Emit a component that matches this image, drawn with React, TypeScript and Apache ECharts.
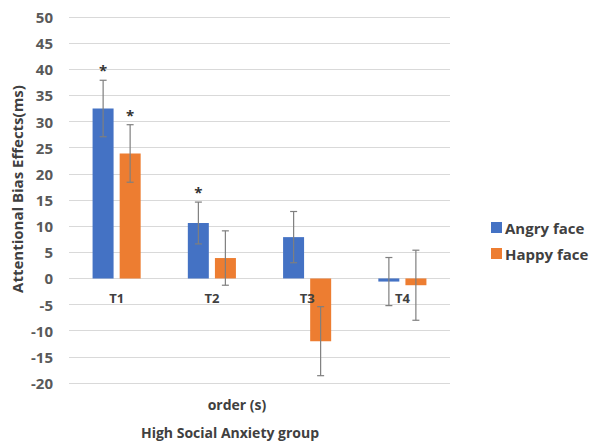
import React, { useEffect, useRef } from "react";
import * as echarts from "echarts";

const categories = ["T1", "T2", "T3", "T4"];
const angryValues = [32.5, 10.6, 7.9, -0.6];
const angryErrors = [5.4, 4.0, 4.9, 4.6];
const angrySignificant = [true, true, false, false];
const happyValues = [23.9, 3.9, -12.0, -1.3];
const happyErrors = [5.5, 5.2, 6.6, 6.7];
const happySignificant = [true, false, false, false];
const yTicks = { min: -20, max: 50, step: 5 };

const FONT = "'Open Sans', sans-serif";
const TEXT_COLOR = "#404040";

function errorSeries(name: string, values: number[], errs: number[], sig: boolean[], offset: number) {
  const data = values.map((v, i) => [i, v, errs[i], sig[i] ? 1 : 0]);
  return {
    type: "custom",
    name: name + " err",
    data,
    z: 10,
    silent: true,
    renderItem: (params: any, api: any) => {
      const i = api.value(0);
      const v = api.value(1);
      const e = api.value(2);
      const s = api.value(3);
      const top = api.coord([i, v + e]);
      const bot = api.coord([i, v - e]);
      const x = top[0] + offset;
      const cap = 3.5;
      const style = { stroke: "#7f7f7f", lineWidth: 1.2, fill: null };
      const children: any[] = [
        { type: "line", shape: { x1: x, y1: top[1], x2: x, y2: bot[1] }, style },
        { type: "line", shape: { x1: x - cap, y1: top[1], x2: x + cap, y2: top[1] }, style },
        { type: "line", shape: { x1: x - cap, y1: bot[1], x2: x + cap, y2: bot[1] }, style },
      ];
      if (s) {
        children.push({
          type: "text",
          x,
          y: top[1] - 10,
          style: {
            text: "*",
            fontSize: 15,
            fontWeight: "bold",
            fontFamily: FONT,
            fill: "#333333",
            align: "center",
            verticalAlign: "middle",
          },
        });
      }
      return { type: "group", children };
    },
  };
}

export default function App() {
  const ref = useRef<HTMLDivElement>(null);
  useEffect(() => {
    if (!ref.current) return;
    const chart = echarts.init(ref.current, null, { renderer: "svg" });
    chart.setOption({
      animation: false,
      backgroundColor: "#ffffff",
      grid: { left: 69, right: 141, top: 17, bottom: 60, containLabel: false },
      legend: {
        orient: "vertical",
        left: 486,
        top: 215,
        itemWidth: 11,
        itemHeight: 11,
        itemGap: 11,
        icon: "rect",
        data: ["Angry face", "Happy face"],
        textStyle: { fontSize: 15, fontWeight: "bold", fontFamily: FONT, color: TEXT_COLOR, padding: [0, 0, 0, -2] },
      },
      xAxis: {
        type: "category",
        data: categories,
        position: "bottom",
        offset: -104.6,
        z: 5,
        axisLine: { show: false, onZero: false },
        axisTick: { show: false },
        axisLabel: { margin: 13, fontSize: 13, fontWeight: "bold", fontFamily: FONT, color: TEXT_COLOR },
        splitLine: { show: false },
      },
      yAxis: {
        type: "value",
        min: yTicks.min,
        max: yTicks.max,
        interval: yTicks.step,
        axisLine: { show: false },
        axisTick: { show: false },
        axisLabel: { margin: 16, fontSize: 15, fontWeight: "bold", fontFamily: FONT, color: "#595959" },
        splitLine: { lineStyle: { color: "#d9d9d9", width: 1 } },
      },
      graphic: [
        {
          type: "text",
          x: 17,
          y: 189,
          rotation: Math.PI / 2,
          style: {
            text: "Attentional Bias Effects(ms)",
            fontSize: 15,
            fontWeight: "bold",
            fontFamily: FONT,
            fill: TEXT_COLOR,
            align: "center",
            verticalAlign: "middle",
          },
        },
        {
          type: "text",
          x: 237,
          y: 404,
          style: {
            text: "order (s)",
            fontSize: 14,
            fontWeight: "bold",
            fontFamily: FONT,
            fill: TEXT_COLOR,
            align: "center",
            verticalAlign: "middle",
          },
        },
        {
          type: "text",
          x: 230,
          y: 432,
          style: {
            text: "High Social Anxiety group",
            fontSize: 14,
            fontWeight: "bold",
            fontFamily: FONT,
            fill: TEXT_COLOR,
            align: "center",
            verticalAlign: "middle",
          },
        },
      ],
      series: [
        {
          type: "bar",
          name: "Angry face",
          data: angryValues,
          barWidth: 21,
          barGap: "29%",
          itemStyle: { color: "#4472C4" },
        },
        {
          type: "bar",
          name: "Happy face",
          data: happyValues,
          barWidth: 21,
          barGap: "29%",
          itemStyle: { color: "#ED7D31" },
        },
        errorSeries("Angry face", angryValues, angryErrors, angrySignificant, -13.5),
        errorSeries("Happy face", happyValues, happyErrors, happySignificant, 13.5),
      ],
    });
    return () => chart.dispose();
  }, []);
  return <div ref={ref} style={{ width: 591, height: 443, position: "absolute", left: 0, top: 0 }} />;
}
